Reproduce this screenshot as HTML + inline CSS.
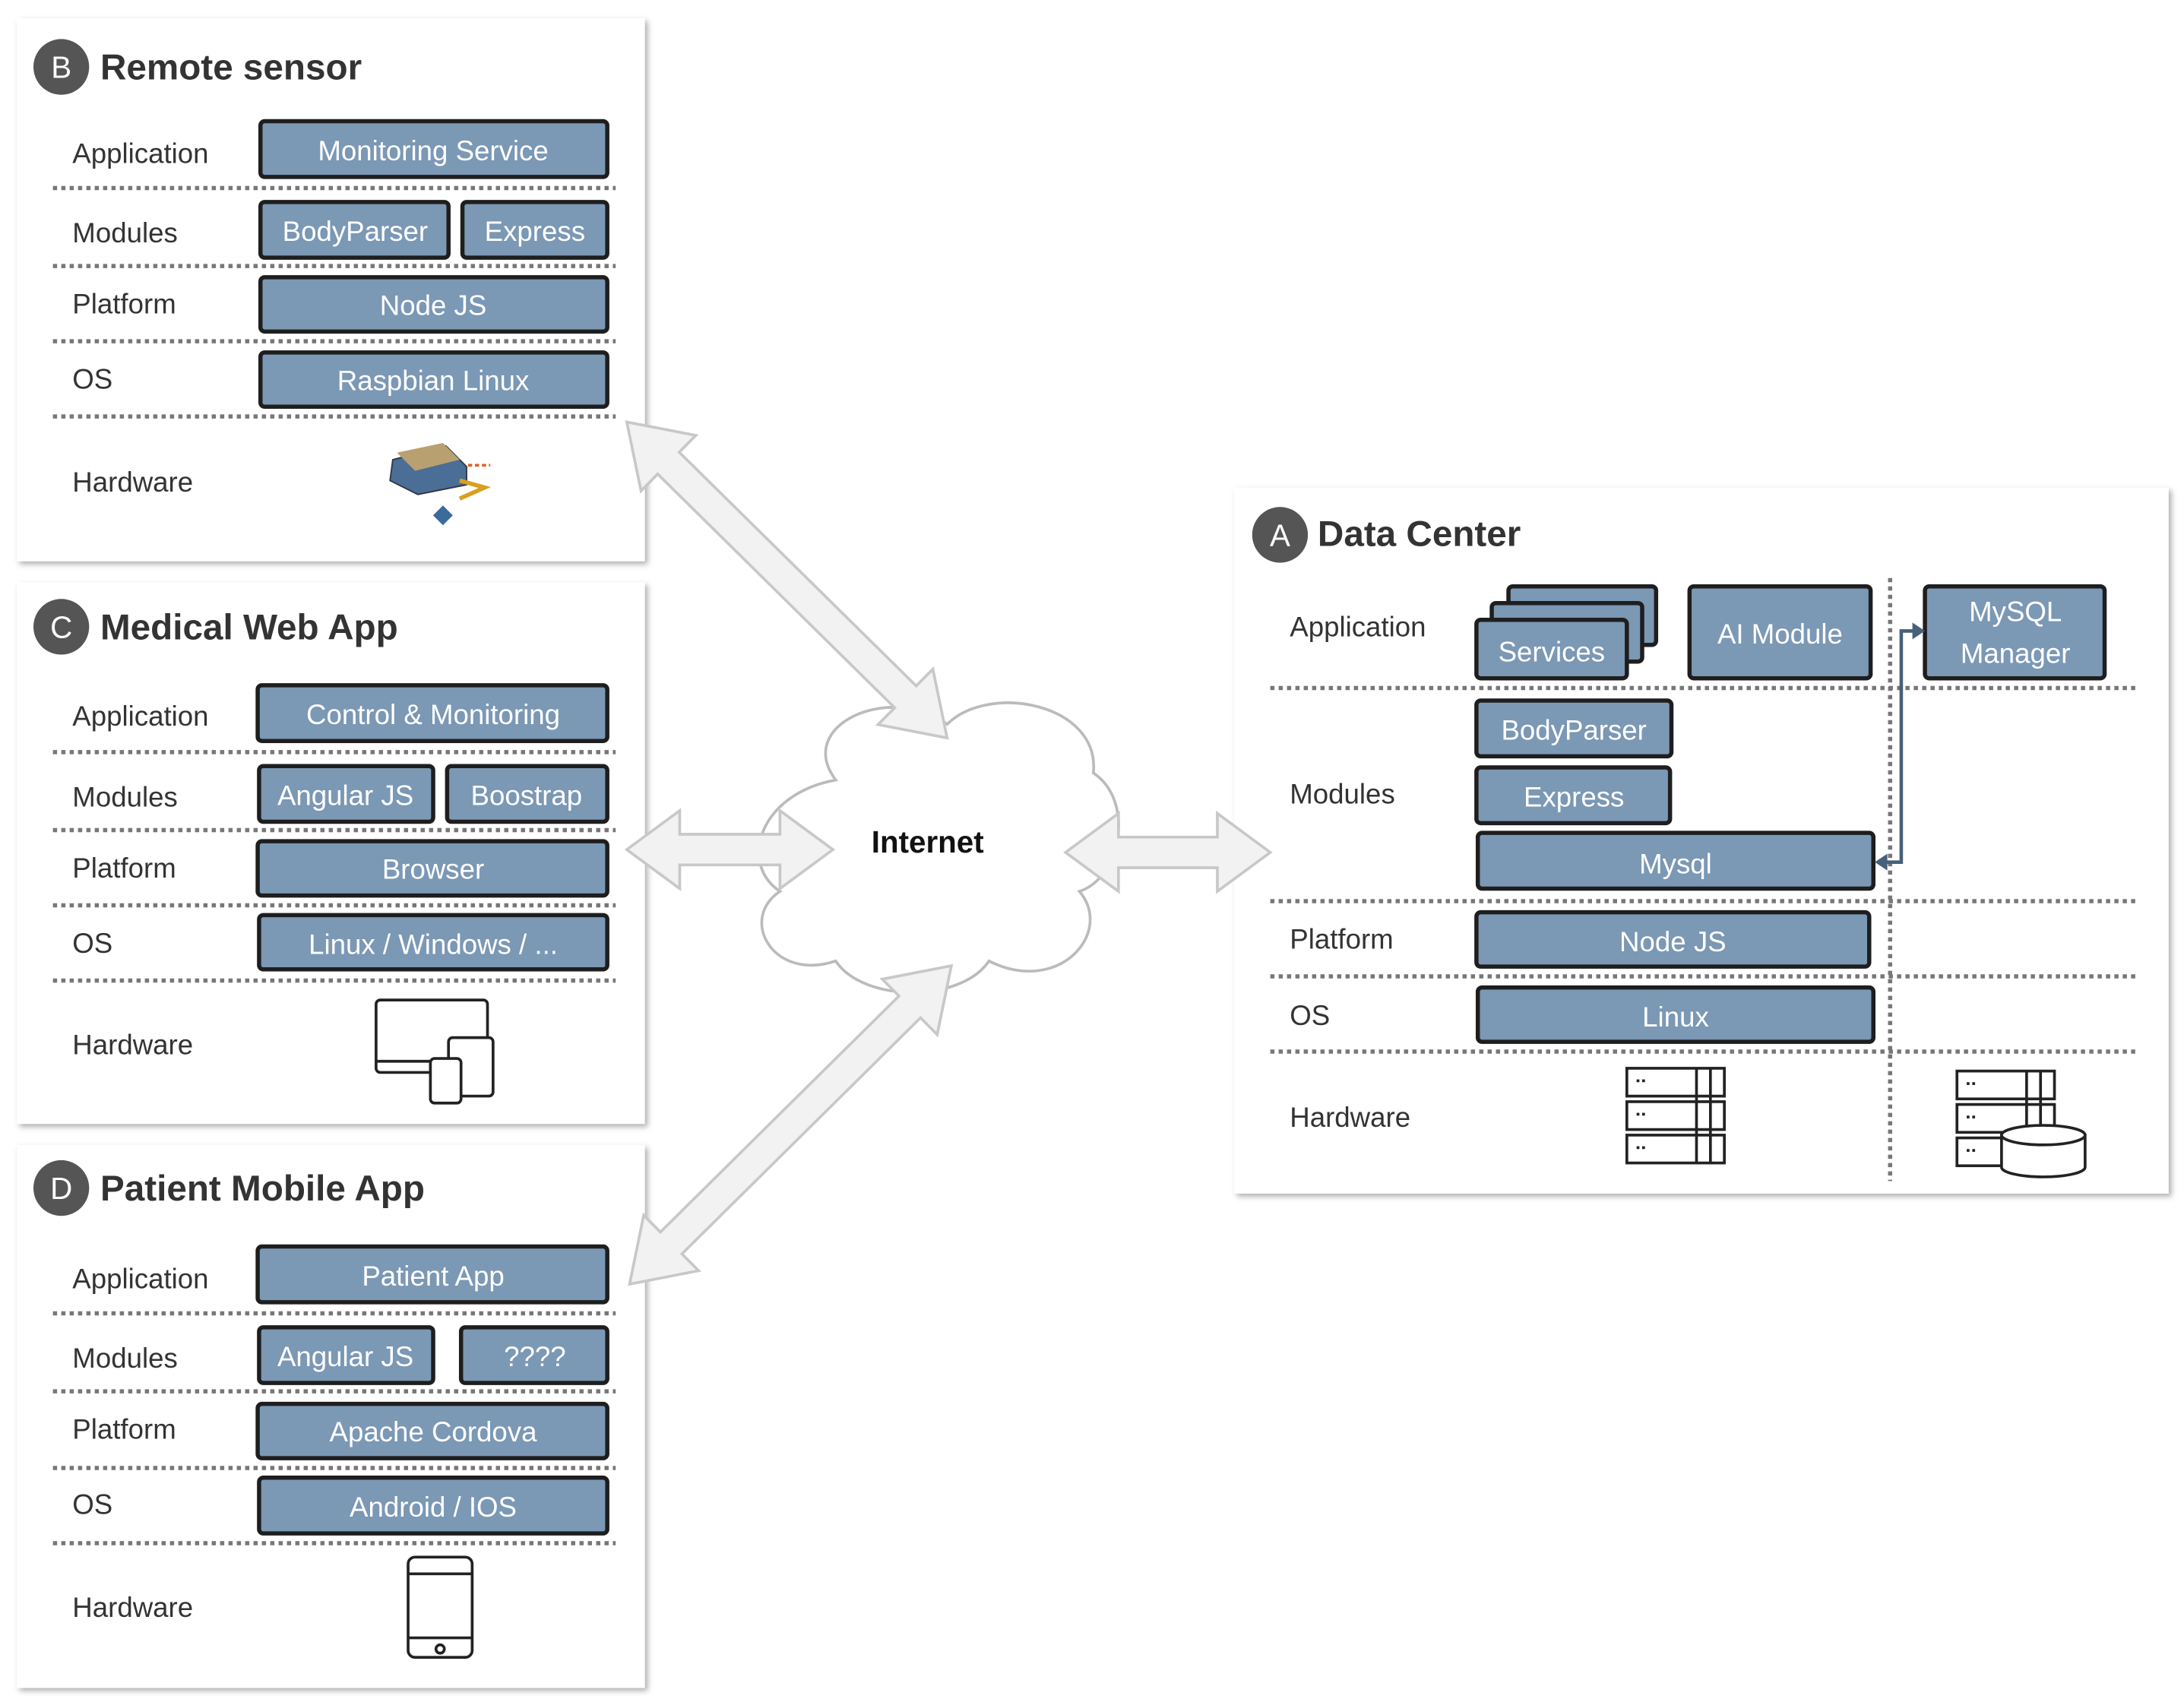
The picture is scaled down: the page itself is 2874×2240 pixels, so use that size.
<!DOCTYPE html>
<html><head><meta charset="utf-8"><style>
html,body{margin:0;padding:0;background:#fff;}
svg{display:block;}
text{font-family:"Liberation Sans",sans-serif;}
.lb{font-size:20px;fill:#333;}
.bt{font-size:20px;fill:#fff;text-anchor:middle;}
.tt{font-size:26px;font-weight:bold;fill:#333;}
.bx{fill:#7b98b5;stroke:#1e1e1e;stroke-width:3;}
.dl{stroke:#777;stroke-width:3;stroke-dasharray:3,3;}
.ar{fill:#f2f2f2;stroke:#c8c8c8;stroke-width:2;}
.ic{fill:#fff;stroke:#222;stroke-width:2;}
</style></head><body>
<svg width="2874" height="2240" viewBox="0 0 1568 1222" xmlns="http://www.w3.org/2000/svg">
<defs>
<filter id="sh" x="-5%" y="-5%" width="110%" height="110%"><feDropShadow dx="2" dy="2" stdDeviation="2" flood-color="#999" flood-opacity="0.8"/></filter>
</defs>

<rect x="12" y="13" width="451" height="390" fill="#fff" filter="url(#sh)"/>
<rect x="12" y="418" width="451" height="389" fill="#fff" filter="url(#sh)"/>
<rect x="12" y="822" width="451" height="390" fill="#fff" filter="url(#sh)"/>
<rect x="886" y="350" width="671" height="507" fill="#fff" filter="url(#sh)"/>

<!-- Cloud -->
<g fill="#fff" stroke="#bbb" stroke-width="2">
<path d="M600,560 C570,520 640,490 680,520 C710,490 790,505 785,555 C815,575 805,630 775,640 C800,670 760,715 710,690 C690,720 620,720 600,690 C555,705 530,660 560,640 C530,620 545,570 600,560 Z"/>
</g>

<!-- Arrows -->
<g class="ar">
<polygon transform="translate(450,303) rotate(44.6)" points="0,0 42,-28 42,-11 281,-11 281,-28 323,0 281,28 281,11 42,11 42,28"/>
<polygon transform="translate(452,922) rotate(-44.7)" points="0,0 42,-28 42,-11 283,-11 283,-28 325,0 283,28 283,11 42,11 42,28"/>
<polygon transform="translate(450,610)" points="0,0 38,-28 38,-11 110,-11 110,-28 148,0 110,28 110,11 38,11 38,28"/>
<polygon transform="translate(765,612)" points="0,0 38,-28 38,-11 109,-11 109,-28 147,0 109,28 109,11 38,11 38,28"/>
</g>
<text x="666" y="612" style="font-size:22px;font-weight:bold;fill:#111;text-anchor:middle;">Internet</text>

<!-- Panel B -->
<circle cx="44" cy="48" r="20" fill="#555"/>
<text x="44" y="56" style="font-size:22px;fill:#fff;text-anchor:middle;">B</text>
<text x="72" y="57" class="tt">Remote sensor</text>
<text x="52" y="117" class="lb">Application</text>
<text x="52" y="174" class="lb">Modules</text>
<text x="52" y="225" class="lb">Platform</text>
<text x="52" y="279" class="lb">OS</text>
<text x="52" y="353" class="lb">Hardware</text>
<rect class="bx" x="187" y="87" width="249" height="40" rx="3"/><text class="bt" x="311" y="115">Monitoring Service</text>
<rect class="bx" x="187" y="145" width="135" height="40" rx="3"/><text class="bt" x="255" y="173">BodyParser</text>
<rect class="bx" x="332" y="145" width="104" height="40" rx="3"/><text class="bt" x="384" y="173">Express</text>
<rect class="bx" x="187" y="199" width="249" height="39" rx="3"/><text class="bt" x="311" y="226">Node JS</text>
<rect class="bx" x="187" y="253" width="249" height="39" rx="3"/><text class="bt" x="311" y="280">Raspbian Linux</text>
<g class="dl"><line x1="38" y1="135" x2="442" y2="135"/><line x1="38" y1="191" x2="442" y2="191"/><line x1="38" y1="245" x2="442" y2="245"/><line x1="38" y1="299" x2="442" y2="299"/></g>
<polygon points="282,330 320,320 335,335 335,348 300,355 280,345" fill="#4a6e95" stroke="#334" stroke-width="1"/>
<polygon points="285,325 318,318 330,330 298,338" fill="#b9a070"/>
<line x1="336" y1="334" x2="352" y2="334" stroke="#e06020" stroke-width="2" stroke-dasharray="3,2"/>
<polyline points="330,345 348,350 330,358" fill="none" stroke="#d8a020" stroke-width="3"/>
<rect x="313" y="365" width="10" height="10" fill="#3a6b9a" transform="rotate(45 318 370)"/>

<!-- Panel C -->
<circle cx="44" cy="450" r="20" fill="#555"/>
<text x="44" y="458" style="font-size:22px;fill:#fff;text-anchor:middle;">C</text>
<text x="72" y="459" class="tt">Medical Web App</text>
<text x="52" y="521" class="lb">Application</text>
<text x="52" y="579" class="lb">Modules</text>
<text x="52" y="630" class="lb">Platform</text>
<text x="52" y="684" class="lb">OS</text>
<text x="52" y="757" class="lb">Hardware</text>
<rect class="bx" x="185" y="492" width="251" height="40" rx="3"/><text class="bt" x="311" y="520">Control &amp; Monitoring</text>
<rect class="bx" x="186" y="550" width="125" height="40" rx="3"/><text class="bt" x="248" y="578">Angular JS</text>
<rect class="bx" x="321" y="550" width="115" height="40" rx="3"/><text class="bt" x="378" y="578">Boostrap</text>
<rect class="bx" x="185" y="604" width="251" height="39" rx="3"/><text class="bt" x="311" y="631">Browser</text>
<rect class="bx" x="186" y="657" width="250" height="39" rx="3"/><text class="bt" x="311" y="685">Linux / Windows / ...</text>
<g class="dl"><line x1="38" y1="540" x2="442" y2="540"/><line x1="38" y1="596" x2="442" y2="596"/><line x1="38" y1="650" x2="442" y2="650"/><line x1="38" y1="704" x2="442" y2="704"/></g>
<g class="ic">
<rect x="270" y="718" width="80" height="52" rx="3"/>
<line x1="270" y1="762" x2="350" y2="762"/>
<rect x="322" y="745" width="32" height="42" rx="3"/>
<rect x="309" y="760" width="22" height="32" rx="3"/>
</g>

<!-- Panel D -->
<circle cx="44" cy="853" r="20" fill="#555"/>
<text x="44" y="861" style="font-size:22px;fill:#fff;text-anchor:middle;">D</text>
<text x="72" y="862" class="tt">Patient Mobile App</text>
<text x="52" y="925" class="lb">Application</text>
<text x="52" y="982" class="lb">Modules</text>
<text x="52" y="1033" class="lb">Platform</text>
<text x="52" y="1087" class="lb">OS</text>
<text x="52" y="1161" class="lb">Hardware</text>
<rect class="bx" x="185" y="895" width="251" height="40" rx="3"/><text class="bt" x="311" y="923">Patient App</text>
<rect class="bx" x="186" y="953" width="125" height="40" rx="3"/><text class="bt" x="248" y="981">Angular JS</text>
<rect class="bx" x="331" y="953" width="105" height="40" rx="3"/><text class="bt" x="384" y="981">????</text>
<rect class="bx" x="185" y="1008" width="251" height="39" rx="3"/><text class="bt" x="311" y="1035">Apache Cordova</text>
<rect class="bx" x="186" y="1061" width="250" height="40" rx="3"/><text class="bt" x="311" y="1089">Android / IOS</text>
<g class="dl"><line x1="38" y1="943" x2="442" y2="943"/><line x1="38" y1="999" x2="442" y2="999"/><line x1="38" y1="1054" x2="442" y2="1054"/><line x1="38" y1="1108" x2="442" y2="1108"/></g>
<g class="ic">
<rect x="293" y="1118" width="46" height="72" rx="5"/>
<line x1="293" y1="1130" x2="339" y2="1130"/><line x1="293" y1="1176" x2="339" y2="1176"/>
<circle cx="316" cy="1184" r="3"/>
</g>

<!-- Panel A -->
<circle cx="919" cy="384" r="20" fill="#555"/>
<text x="919" y="392" style="font-size:22px;fill:#fff;text-anchor:middle;">A</text>
<text x="946" y="392" class="tt">Data Center</text>
<text x="926" y="457" class="lb">Application</text>
<text x="926" y="577" class="lb">Modules</text>
<text x="926" y="681" class="lb">Platform</text>
<text x="926" y="736" class="lb">OS</text>
<text x="926" y="809" class="lb">Hardware</text>
<rect class="bx" x="1083" y="421" width="106" height="42" rx="3"/>
<rect class="bx" x="1071" y="433" width="108" height="42" rx="3"/>
<rect class="bx" x="1060" y="445" width="108" height="42" rx="3"/><text class="bt" x="1114" y="475">Services</text>
<rect class="bx" x="1213" y="421" width="130" height="66" rx="3"/><text class="bt" x="1278" y="462">AI Module</text>
<rect class="bx" x="1382" y="421" width="129" height="66" rx="3"/><text class="bt" x="1447" y="446">MySQL</text><text class="bt" x="1447" y="476">Manager</text>
<rect class="bx" x="1060" y="503" width="140" height="40" rx="3"/><text class="bt" x="1130" y="531">BodyParser</text>
<rect class="bx" x="1060" y="551" width="139" height="40" rx="3"/><text class="bt" x="1130" y="579">Express</text>
<rect class="bx" x="1061" y="598" width="284" height="40" rx="3"/><text class="bt" x="1203" y="627">Mysql</text>
<rect class="bx" x="1060" y="655" width="282" height="39" rx="3"/><text class="bt" x="1201" y="683">Node JS</text>
<rect class="bx" x="1061" y="709" width="284" height="39" rx="3"/><text class="bt" x="1203" y="737">Linux</text>
<g class="dl"><line x1="912" y1="494" x2="1533" y2="494"/><line x1="912" y1="647" x2="1533" y2="647"/><line x1="912" y1="701" x2="1533" y2="701"/><line x1="912" y1="755" x2="1533" y2="755"/><line x1="1357" y1="415" x2="1357" y2="848"/></g>
<polyline points="1352,619 1365,619 1365,453 1376,453" fill="none" stroke="#46607a" stroke-width="2.5"/>
<polygon points="1382,453 1373,447 1373,459" fill="#46607a"/>
<polygon points="1346,619 1355,613 1355,625" fill="#46607a"/>
<g class="ic">
<rect x="1168" y="767" width="70" height="20"/><rect x="1168" y="791" width="70" height="20"/><rect x="1168" y="815" width="70" height="20"/>
<line x1="1218" y1="767" x2="1218" y2="835"/><line x1="1228" y1="767" x2="1228" y2="835"/>
<rect x="1405" y="769" width="70" height="20"/><rect x="1405" y="793" width="70" height="20"/><rect x="1405" y="817" width="70" height="20"/>
<line x1="1455" y1="769" x2="1455" y2="813"/><line x1="1465" y1="769" x2="1465" y2="813"/>
<path d="M1437,815 L1437,838 A30,7 0 0,0 1497,838 L1497,815 Z"/>
<ellipse cx="1467" cy="815" rx="30" ry="7"/>
</g>
<g fill="#222">
<rect x="1175" y="775" width="2" height="2"/><rect x="1179" y="775" width="2" height="2"/>
<rect x="1175" y="799" width="2" height="2"/><rect x="1179" y="799" width="2" height="2"/>
<rect x="1175" y="823" width="2" height="2"/><rect x="1179" y="823" width="2" height="2"/>
<rect x="1412" y="777" width="2" height="2"/><rect x="1416" y="777" width="2" height="2"/>
<rect x="1412" y="801" width="2" height="2"/><rect x="1416" y="801" width="2" height="2"/>
<rect x="1412" y="825" width="2" height="2"/><rect x="1416" y="825" width="2" height="2"/>
</g>
</svg>
</body></html>
